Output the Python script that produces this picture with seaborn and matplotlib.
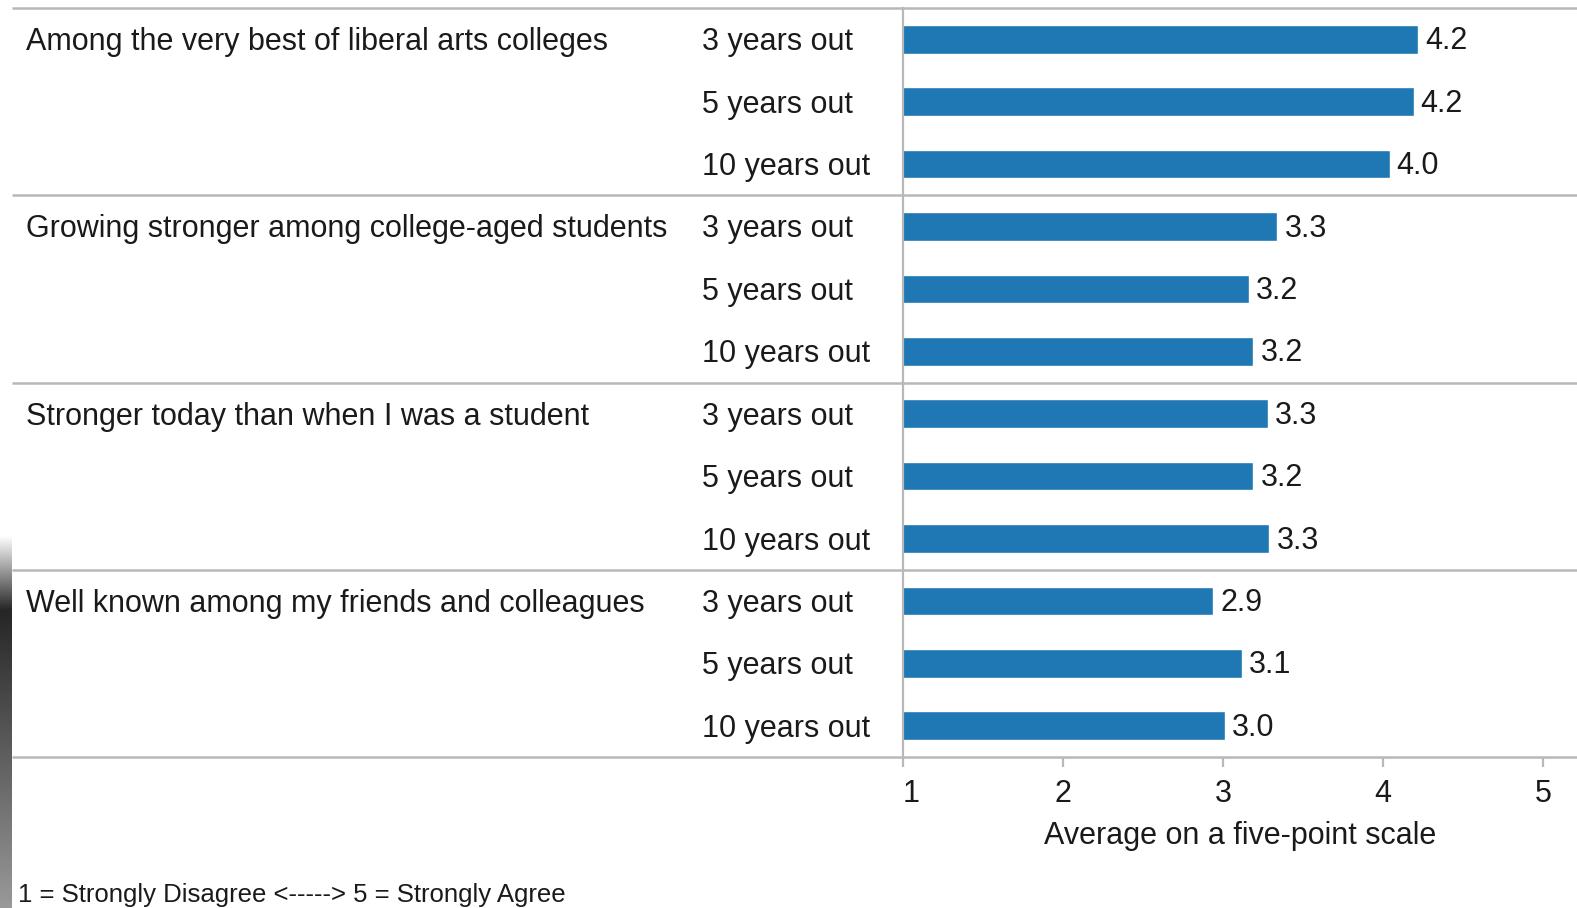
import numpy as np
import pandas as pd
import matplotlib
matplotlib.use('Agg')
import matplotlib.pyplot as plt
import matplotlib.transforms as mtransforms
import seaborn as sns

# данные
groups = [
    'Among the very best of liberal arts colleges',
    'Growing stronger among college-aged students',
    'Stronger today than when I was a student',
    'Well known among my friends and colleagues',
]
periods = ['3 years out', '5 years out', '10 years out']
values_best = [4.22, 4.19, 4.04]
values_growing = [3.34, 3.16, 3.19]
values_stronger = [3.28, 3.19, 3.29]
values_known = [2.94, 3.12, 3.01]
x_ticks = [1, 2, 3, 4, 5]
x_title = 'Average on a five-point scale'
note = '1 = Strongly Disagree <-----> 5 = Strongly Agree'

all_values = [values_best, values_growing, values_stronger, values_known]
rows = []
for g, vals in zip(groups, all_values):
    for p, v in zip(periods, vals):
        rows.append({'group': g, 'period': p, 'row': f'{g} | {p}', 'value': v})
df = pd.DataFrame(rows)

sns.set_style('white')
plt.rcParams['font.family'] = ['Liberation Sans', 'DejaVu Sans']

W, H = 1577, 908
fig = plt.figure(figsize=(W / 100, H / 100), dpi=100)

ax_left, ax_right, ax_top, ax_bottom = 902.7, 1577, 8, 757
ax = fig.add_axes([ax_left / W, 1 - ax_bottom / H, (ax_right - ax_left) / W, (ax_bottom - ax_top) / H])

blue = '#1f77b4'
grid_col = '#b8b8b8'
txt_col = '#1a1a1a'
fs = 22

sns.barplot(data=df, x='value', y='row', orient='h', color=blue, saturation=1,
            width=0.46, ax=ax)

ax.set_xlim(1, 1 + (ax_right - ax_left) / 160.15)
ax.set_ylim(len(df) - 0.5, -0.5)
ax.set_yticks([])
ax.set_ylabel('')
ax.set_xticks(x_ticks)
ax.set_xticklabels([str(t) for t in x_ticks], fontsize=fs, color=txt_col)
ax.get_xticklabels()[0].set_horizontalalignment('left')
ax.tick_params(axis='x', bottom=True, direction='out', length=7.5, width=1.6,
               color=grid_col, pad=8)
ax.set_xlabel(x_title, fontsize=fs, color=txt_col, labelpad=9)

for side in ['top', 'right', 'bottom']:
    ax.spines[side].set_visible(False)
ax.spines['left'].set_color(grid_col)
ax.spines['left'].set_linewidth(1.6)

# разделители групп
trans = mtransforms.blended_transform_factory(fig.transFigure, ax.transData)
for i in range(len(groups) + 1):
    y = i * len(periods) - 0.5
    ax.plot([12 / W, 1], [y, y], transform=trans, color=grid_col, lw=1.8,
            clip_on=False, solid_capstyle='butt')

# подписи групп и периодов (чуть ниже центра строки)
text_trans = mtransforms.offset_copy(trans, fig=fig, y=-3, units='dots')
for i, row in df.iterrows():
    if row['period'] == periods[0]:
        ax.text(26 / W, i, row['group'], transform=text_trans, fontsize=fs,
                ha='left', va='center', color=txt_col)
    ax.text(702 / W, i, row['period'], transform=text_trans, fontsize=fs,
            ha='left', va='center', color=txt_col)

# значения рядом со столбцами
for p, v in zip(ax.patches, df['value']):
    ax.annotate(f'{v:.1f}', (p.get_width(), p.get_y() + p.get_height() / 2),
                xytext=(5, -1.5), textcoords='offset points',
                ha='left', va='center', fontsize=fs, color=txt_col)

fig.text(18 / W, 1 - 895 / H, note, fontsize=18.5, ha='left', va='center', color=txt_col)

# серая полоса слева (край скриншота)
strip = fig.add_axes([0, 0, 12 / W, 1 - 535 / H])
yy = np.linspace(0, 1, 200)
shade = np.where(yy < 0.2, 1 - (yy / 0.2) * 0.85, 0.15 + (yy - 0.2) / 0.8 * 0.45)
strip.imshow(shade[:, None], aspect='auto', cmap='gray', vmin=0, vmax=1)
strip.axis('off')

fig.savefig('out.png', dpi=100)
